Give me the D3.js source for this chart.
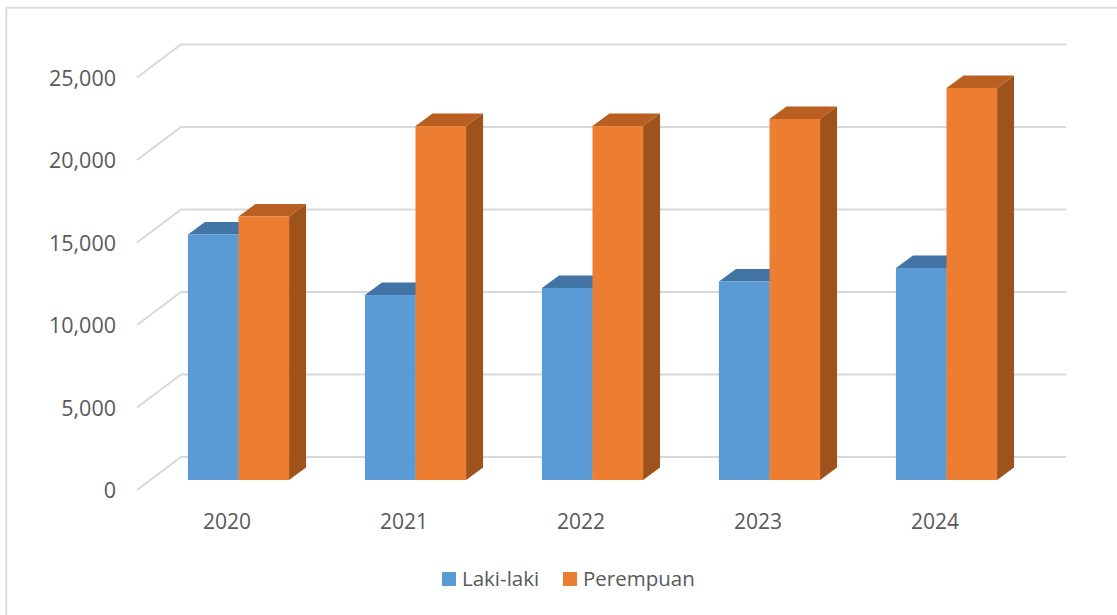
<!DOCTYPE html>
<html>
<head>
<meta charset="utf-8">
<script src="https://cdn.jsdelivr.net/npm/d3@7"></script>
<style>
  html, body { margin: 0; padding: 0; background: #fff; }
  text { font-family: "Open Sans", sans-serif; fill: #595959; }
</style>
</head>
<body>
<div id="visualization"></div>
<script>
const years = ['2020', '2021', '2022', '2023', '2024'];
const lakiLaki = [14880, 11210, 11640, 12030, 12850];
const perempuan = [15970, 21450, 21450, 21880, 23760];
const yTicks = [0, 5000, 10000, 15000, 20000, 25000];
const legendNames = ['Laki-laki', 'Perempuan'];

const width = 1117;
const height = 615;

// front edge of the floor, everything else is offset from it
const floorLeft = 137, floorRight = 1022, floorY = 490;
const plotTop = 77.5;
const wall = {dx: 44, dy: -33};      // front of floor to back wall
const barOffset = {dx: 13, dy: -10}; // front of floor to front of bars
const barDepth = {dx: 17, dy: -12.5};

const svg = d3.select('#visualization')
    .append('svg')
    .attr('width', width)
    .attr('height', height)
    .style('display', 'block');

// chart frame, only top and left edges show in the crop
svg.append('path')
    .attr('d', d3.line()([[6.3, height], [6.3, 7.7], [width, 7.7]]))
    .attr('fill', 'none')
    .attr('stroke', '#dedede')
    .attr('stroke-width', 2);

const xScale = d3.scaleBand().domain(years).range([floorLeft, floorRight]);
const yScale = d3.scaleLinear().domain([0, 25000]).range([floorY, plotTop]);
const seriesScale = d3.scaleBand()
    .domain(legendNames)
    .range([0, xScale.bandwidth()])
    .paddingOuter(0.75)
    .paddingInner(0);

const colors = d3.scaleOrdinal().domain(legendNames).range(['#5b9bd5', '#ed7d31']);
const topColors = d3.scaleOrdinal().domain(legendNames).range(['#4275a5', '#b85f21']);
const sideColors = d3.scaleOrdinal().domain(legendNames).range(['#3a6a96', '#9e531d']);

// gridlines on the floor edge and back wall
const grid = svg.append('g')
    .attr('fill', 'none')
    .attr('stroke', '#d9d9d9')
    .attr('stroke-width', 2);
yTicks.forEach(t => {
    const y = yScale(t);
    grid.append('path')
        .attr('d', d3.line()([
            [floorLeft, y],
            [floorLeft + wall.dx, y + wall.dy],
            [floorRight + wall.dx, y + wall.dy]
        ]));
});

// y tick labels
svg.append('g').selectAll('text')
    .data(yTicks)
    .enter().append('text')
    .attr('x', 116)
    .attr('y', d => yScale(d) + 0.5)
    .attr('dy', '0.36em')
    .attr('text-anchor', 'end')
    .attr('font-size', 21.5)
    .text(d => d3.format(',')(d));

// x labels
svg.append('g').selectAll('text')
    .data(years)
    .enter().append('text')
    .attr('x', d => xScale(d) + xScale.bandwidth() / 2 + 1.5)
    .attr('y', 529)
    .attr('text-anchor', 'middle')
    .attr('font-size', 21)
    .text(d => d);

function drawBar(g, name, year, value) {
    const x0 = xScale(year) + seriesScale(name) + barOffset.dx;
    const x1 = x0 + seriesScale.bandwidth();
    const y0 = yScale(0) + barOffset.dy;
    const y1 = yScale(value) + barOffset.dy;
    const dx = barDepth.dx, dy = barDepth.dy;
    const poly = d3.line().curve(d3.curveLinearClosed);

    g.append('path')
        .attr('d', poly([[x1, y0], [x1 + dx, y0 + dy], [x1 + dx, y1 + dy], [x1, y1]]))
        .attr('fill', sideColors(name));
    g.append('path')
        .attr('d', poly([[x0, y1], [x0 + dx, y1 + dy], [x1 + dx, y1 + dy], [x1, y1]]))
        .attr('fill', topColors(name));
    g.append('rect')
        .attr('x', x0)
        .attr('y', y1)
        .attr('width', x1 - x0)
        .attr('height', y0 - y1)
        .attr('fill', colors(name));
}

const bars = svg.append('g');
years.forEach((year, i) => {
    drawBar(bars, legendNames[0], year, lakiLaki[i]);
    drawBar(bars, legendNames[1], year, perempuan[i]);
});

// legend
const legendX = [442, 563];
const legend = svg.append('g').selectAll('g')
    .data(legendNames)
    .enter().append('g')
    .attr('transform', (d, i) => `translate(${legendX[i]},572)`);
legend.append('rect')
    .attr('width', 14)
    .attr('height', 14)
    .attr('fill', d => colors(d));
legend.append('text')
    .attr('x', 20)
    .attr('y', 14)
    .attr('font-size', 20.5)
    .text(d => d);
</script>
</body>
</html>
